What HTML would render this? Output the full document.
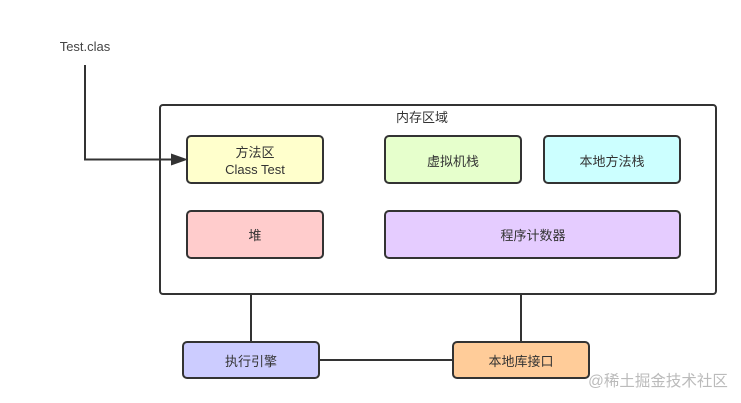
<!DOCTYPE html>
<html>
<head>
<meta charset="utf-8">
<style>
html,body{margin:0;padding:0;background:#fff;width:741px;height:403px;overflow:hidden}
svg{display:block;filter:blur(0.35px)}
text{font-family:"Liberation Sans","Noto Sans CJK SC",sans-serif;font-size:13px;fill:#333;text-anchor:middle}
rect{stroke:#333;stroke-width:2}
</style>
</head>
<body>
<svg width="741" height="403" viewBox="0 0 741 403" xmlns="http://www.w3.org/2000/svg">
<rect width="741" height="403" fill="#fff" style="stroke:none"/>
<g fill="none" stroke="#333" stroke-width="2">
<path d="M251 294V342"/>
<path d="M521 292V342"/>
<path d="M319 360H453"/>
<path d="M85 65V159.500H172"/>
</g>
<rect x="160" y="105" width="556" height="189" rx="3" fill="#fff"/>
<path d="M85 159.500H172" stroke="#333" stroke-width="2" fill="none"/>
<rect x="187" y="136" width="136" height="47" rx="4" fill="#ffffcc"/>
<rect x="385" y="136" width="136" height="47" rx="4" fill="#e6ffcc"/>
<rect x="544" y="136" width="136" height="47" rx="4" fill="#ccffff"/>
<rect x="187" y="211" width="136" height="47" rx="4" fill="#ffcccc"/>
<rect x="385" y="211" width="295" height="47" rx="4" fill="#e5ccff"/>
<rect x="183" y="342" width="136" height="36" rx="4" fill="#ccccff"/>
<rect x="453" y="342" width="136" height="36" rx="4" fill="#ffcc99"/>
<path d="M171 153.500L188 159.500L171 165.500Z" fill="#333"/>
<text x="85" y="51" style="fill:#444">Test.clas</text>
<text x="422" y="122">内存区域</text>
<text x="255" y="157">方法区</text>
<text x="255" y="174">Class Test</text>
<text x="453" y="166">虚拟机栈</text>
<text x="612" y="166">本地方法栈</text>
<text x="255" y="240">堆</text>
<text x="533" y="240">程序计数器</text>
<text x="251" y="366">执行引擎</text>
<text x="521" y="366">本地库接口</text>
<text x="658" y="386" style="font-size:15.500px;fill:#bbb">@稀土掘金技术社区</text>
</svg>
</body>
</html>
